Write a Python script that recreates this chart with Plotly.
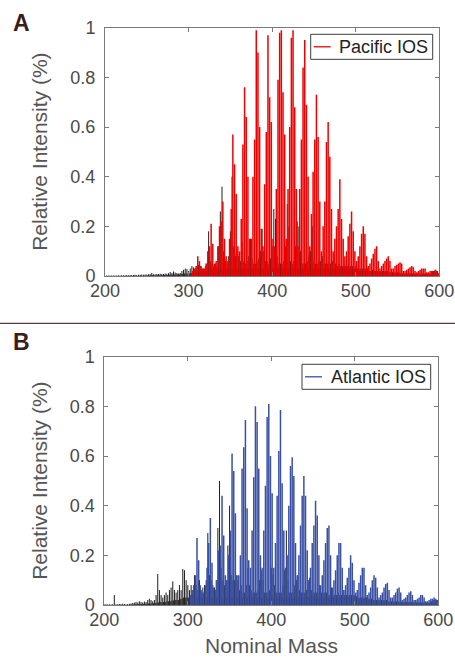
import plotly.graph_objects as go

# ---------------------------------------------------------------------------
# Nominal-mass spectra (relative intensity) for two island-of-stability
# (IOS) samples.  "other" = every nominal mass 200..600 (black sticks),
# "ios" = IOS formulas at odd nominal masses (coloured sticks).
# ---------------------------------------------------------------------------
MASS_MIN = 200

pac_other = [
    0, 0, 0.002, 0, 0.002, 0, 0.002, 0, 0.002, 0,                      # 200
    0.002, 0, 0.002, 0, 0.002, 0, 0.003, 0, 0.002, 0,                  # 210
    0.003, 0, 0.003, 0, 0.003, 0, 0.004, 0, 0.003, 0,                  # 220
    0.004, 0, 0.004, 0, 0.004, 0.002, 0.005, 0, 0.004, 0,              # 230
    0.005, 0, 0.005, 0.002, 0.006, 0, 0.005, 0.002, 0.006, 0,          # 240
    0.006, 0.002, 0.007, 0.002, 0.008, 0.003, 0.012, 0.003, 0.007, 0.002,  # 250
    0.007, 0.003, 0.008, 0.003, 0.008, 0.003, 0.009, 0.004, 0.008, 0.003,  # 260
    0.008, 0.004, 0.01, 0.004, 0.009, 0.004, 0.011, 0.005, 0.016, 0.005,   # 270
    0.012, 0.006, 0.018, 0.006, 0.014, 0.006, 0.012, 0.007, 0.01, 0.006,   # 280
    0.012, 0.008, 0.02, 0.008, 0.025, 0.01, 0.03, 0.01, 0.028, 0.01,       # 290
    0.02, 0.01, 0.03, 0.012, 0.04, 0.012, 0.035, 0.015, 0.03, 0.015,       # 300
    0.04, 0.015, 0.045, 0.02, 0.04, 0.02, 0.03, 0.02, 0.03, 0.02,          # 310
    0.04, 0.02, 0.05, 0.02, 0.18, 0.03, 0.06, 0.03, 0.05, 0.02,            # 320
    0.04, 0.03, 0.05, 0.03, 0.04, 0.03, 0.12, 0.03, 0.26, 0.03,            # 330
    0.36, 0.03, 0.1, 0.03, 0.06, 0.03, 0.05, 0.03, 0.08, 0.03,             # 340
    0.18, 0.03, 0.40, 0.03, 0.12, 0.03, 0.08, 0.03, 0.1, 0.03,             # 350
    0.08, 0.03, 0.06, 0.03, 0.14, 0.03, 0.06, 0.03, 0.05, 0.03,            # 360
    0.06, 0.03, 0.08, 0.03, 0.15, 0.03, 0.07, 0.03, 0.05, 0.03,            # 370
    0.05, 0.03, 0.06, 0.03, 0.07, 0.03, 0.1, 0.03, 0.19, 0.03,             # 380
    0.1, 0.03, 0.06, 0.03, 0.06, 0.03, 0.05, 0.03, 0.07, 0.03,             # 390
    0.12, 0.03, 0.27, 0.03, 0.23, 0.03, 0.08, 0.03, 0.05, 0.03,            # 400
    0.05, 0.03, 0.05, 0.03, 0.06, 0.03, 0.12, 0.03, 0.29, 0.03,            # 410
    0.2, 0.03, 0.06, 0.03, 0.05, 0.03, 0.06, 0.03, 0.12, 0.03,             # 420
    0.22, 0.03, 0.2, 0.03, 0.1, 0.03, 0.05, 0.03, 0.05, 0.03,              # 430
    0.05, 0.03, 0.06, 0.03, 0.08, 0.03, 0.1, 0.03, 0.2, 0.03,              # 440
    0.06, 0.03, 0.05, 0.03, 0.05, 0.03, 0.06, 0.03, 0.06, 0.03,            # 450
    0.08, 0.03, 0.05, 0.03, 0.05, 0.03, 0.05, 0.03, 0.05, 0.03,            # 460
    0.05, 0.03, 0.06, 0.03, 0.09, 0.03, 0.05, 0.03, 0.04, 0.03,            # 470
    0.05, 0.03, 0.04, 0.03, 0.04, 0.03, 0.05, 0.03, 0.04, 0.03,            # 480
    0.04, 0.03, 0.04, 0.03, 0.04, 0.03, 0.04, 0.03, 0.03, 0.03,            # 490
    0.04, 0.03, 0.03, 0.03, 0.03, 0.02, 0.03, 0.02, 0.03, 0.02,            # 500
    0.03, 0.02, 0.03, 0.02, 0.03, 0.02, 0.02, 0.02, 0.02, 0.02,            # 510
    0.025, 0.02, 0.02, 0.02, 0.02, 0.02, 0.02, 0.015, 0.02, 0.015,         # 520
    0.02, 0.015, 0.02, 0.015, 0.02, 0.015, 0.02, 0.015, 0.02, 0.015,       # 530
    0.015, 0.01, 0.015, 0.01, 0.015, 0.01, 0.015, 0.01, 0.015, 0.01,       # 540
    0.015, 0.01, 0.015, 0.01, 0.01, 0.01, 0.01, 0.01, 0.01, 0.01,          # 550
    0.01, 0.01, 0.01, 0.01, 0.01, 0.01, 0.01, 0.01, 0.01, 0.01,            # 560
    0.01, 0.008, 0.01, 0.008, 0.01, 0.008, 0.01, 0.008, 0.01, 0.008,       # 570
    0.01, 0.008, 0.01, 0.008, 0.01, 0.008, 0.01, 0.008, 0.01, 0.008,       # 580
    0.01, 0.008, 0.02, 0.008, 0.02, 0.01, 0.025, 0.01, 0.02, 0.01,         # 590
    0.01,                                                               # 600
]

PAC_IOS_START = 305   # odd masses 305, 307, ... 599
pac_ios = [
    0.02, 0.03, 0.04, 0.08, 0.06, 0.04, 0.03,       # 305-317
    0.03, 0.05, 0.10, 0.12, 0.21, 0.13, 0.05,       # 319-331
    0.06, 0.12, 0.20, 0.22, 0.30, 0.15, 0.08,       # 333-345
    0.06, 0.15, 0.27, 0.57, 0.45, 0.33, 0.12,       # 347-359
    0.10, 0.23, 0.53, 0.76, 0.64, 0.40, 0.15,       # 361-373
    0.15, 0.40, 0.55, 0.99, 0.90, 0.60, 0.19,       # 375-387
    0.12, 0.37, 0.58, 0.97, 0.72, 0.62, 0.15,       # 389-401
    0.12, 0.35, 0.79, 0.98, 0.99, 0.74, 0.57,       # 403-415
    0.15, 0.35, 0.60, 0.96, 0.99, 0.68, 0.35,       # 417-429
    0.12, 0.35, 0.55, 0.84, 0.95, 0.69, 0.40,       # 431-443
    0.12, 0.25, 0.42, 0.55, 0.73, 0.56, 0.30,       # 445-457
    0.10, 0.20, 0.30, 0.54, 0.62, 0.48, 0.27,       # 459-471
    0.10, 0.15, 0.20, 0.27, 0.39, 0.23, 0.15,       # 473-485
    0.08, 0.10, 0.16, 0.21, 0.26, 0.18, 0.10,       # 487-499
    0.06, 0.08, 0.12, 0.17, 0.20, 0.17, 0.08,       # 501-513
    0.04, 0.05, 0.07, 0.09, 0.11, 0.12, 0.06,       # 515-527
    0.03, 0.04, 0.05, 0.06, 0.07, 0.08, 0.06,       # 529-541
    0.03, 0.03, 0.04, 0.045, 0.05, 0.055, 0.05,     # 543-555
    0.02, 0.02, 0.025, 0.03, 0.035, 0.04, 0.035,    # 557-569
    0.02, 0.015, 0.02, 0.025, 0.03, 0.03, 0.03,     # 571-583
    0.015, 0.015, 0.02, 0.02, 0.02, 0.025, 0.02,    # 585-597
    0.01,                                           # 599
]

atl_other = [
    0.003, 0, 0.003, 0, 0.002, 0, 0.003, 0, 0.002, 0,                  # 200
    0.003, 0, 0.04, 0, 0.003, 0, 0.003, 0, 0.004, 0,                   # 210
    0.004, 0, 0.005, 0, 0.004, 0, 0.003, 0, 0.004, 0,                  # 220
    0.005, 0.002, 0.006, 0.002, 0.008, 0.002, 0.01, 0.003, 0.012, 0.003,   # 230
    0.01, 0.003, 0.015, 0.004, 0.012, 0.004, 0.01, 0.004, 0.014, 0.005,    # 240
    0.012, 0.005, 0.02, 0.006, 0.025, 0.006, 0.02, 0.007, 0.015, 0.007,    # 250
    0.02, 0.008, 0.04, 0.01, 0.125, 0.01, 0.06, 0.012, 0.04, 0.01,         # 260
    0.03, 0.012, 0.04, 0.012, 0.05, 0.015, 0.04, 0.015, 0.06, 0.015,       # 270
    0.07, 0.018, 0.095, 0.018, 0.06, 0.02, 0.05, 0.02, 0.06, 0.02,         # 280
    0.08, 0.025, 0.06, 0.025, 0.145, 0.03, 0.14, 0.03, 0.1, 0.03,          # 290
    0.08, 0.03, 0.06, 0.04, 0.08, 0.04, 0.06, 0.04, 0.12, 0.04,            # 300
    0.08, 0.03, 0.06, 0.03, 0.1, 0.03, 0.06, 0.03, 0.07, 0.03,             # 310
    0.08, 0.03, 0.1, 0.03, 0.29, 0.03, 0.12, 0.03, 0.1, 0.03,              # 320
    0.08, 0.03, 0.07, 0.03, 0.1, 0.03, 0.31, 0.03, 0.50, 0.03,             # 330
    0.15, 0.03, 0.1, 0.03, 0.08, 0.03, 0.1, 0.03, 0.24, 0.03,              # 340
    0.40, 0.03, 0.12, 0.03, 0.1, 0.03, 0.1, 0.03, 0.12, 0.03,              # 350
    0.1, 0.03, 0.06, 0.03, 0.08, 0.03, 0.05, 0.03, 0.05, 0.03,             # 360
    0.08, 0.03, 0.15, 0.03, 0.08, 0.03, 0.06, 0.03, 0.05, 0.03,            # 370
    0.05, 0.03, 0.05, 0.03, 0.06, 0.03, 0.1, 0.03, 0.14, 0.03,             # 380
    0.1, 0.03, 0.05, 0.03, 0.05, 0.03, 0.05, 0.03, 0.06, 0.03,             # 390
    0.15, 0.03, 0.12, 0.03, 0.08, 0.03, 0.05, 0.03, 0.05, 0.03,            # 400
    0.05, 0.03, 0.05, 0.03, 0.08, 0.03, 0.14, 0.03, 0.3, 0.03,             # 410
    0.1, 0.03, 0.05, 0.03, 0.05, 0.03, 0.05, 0.03, 0.08, 0.03,             # 420
    0.1, 0.03, 0.12, 0.03, 0.06, 0.03, 0.05, 0.03, 0.05, 0.03,             # 430
    0.05, 0.03, 0.06, 0.03, 0.1, 0.03, 0.11, 0.03, 0.06, 0.03,             # 440
    0.05, 0.03, 0.05, 0.03, 0.05, 0.03, 0.05, 0.03, 0.08, 0.03,            # 450
    0.05, 0.03, 0.05, 0.03, 0.05, 0.03, 0.05, 0.03, 0.04, 0.03,            # 460
    0.04, 0.03, 0.07, 0.03, 0.04, 0.03, 0.04, 0.03, 0.04, 0.03,            # 470
    0.05, 0.03, 0.04, 0.03, 0.04, 0.03, 0.06, 0.03, 0.04, 0.03,            # 480
    0.04, 0.03, 0.04, 0.03, 0.04, 0.03, 0.04, 0.03, 0.04, 0.03,            # 490
    0.04, 0.03, 0.035, 0.03, 0.03, 0.025, 0.03, 0.025, 0.03, 0.025,        # 500
    0.03, 0.025, 0.03, 0.02, 0.03, 0.02, 0.025, 0.02, 0.025, 0.02,         # 510
    0.025, 0.02, 0.02, 0.02, 0.02, 0.02, 0.02, 0.015, 0.02, 0.015,         # 520
    0.02, 0.015, 0.02, 0.015, 0.02, 0.015, 0.02, 0.015, 0.02, 0.015,       # 530
    0.015, 0.012, 0.015, 0.012, 0.015, 0.012, 0.015, 0.012, 0.015, 0.012,  # 540
    0.015, 0.01, 0.015, 0.01, 0.012, 0.01, 0.012, 0.01, 0.012, 0.01,       # 550
    0.012, 0.01, 0.012, 0.01, 0.012, 0.01, 0.012, 0.01, 0.012, 0.01,       # 560
    0.01, 0.01, 0.01, 0.01, 0.01, 0.01, 0.01, 0.01, 0.01, 0.01,            # 570
    0.01, 0.008, 0.01, 0.008, 0.01, 0.008, 0.01, 0.008, 0.01, 0.008,       # 580
    0.01, 0.008, 0.015, 0.008, 0.02, 0.01, 0.02, 0.01, 0.02, 0.01,         # 590
    0.01,                                                               # 600
]

ATL_IOS_START = 303   # odd masses 303, 305, ... 599
atl_ios = [
    0.04,                                           # 303
    0.06, 0.08, 0.12, 0.27, 0.18, 0.08, 0.05,       # 305-317
    0.05, 0.08, 0.15, 0.25, 0.35, 0.17, 0.07,       # 319-331
    0.06, 0.10, 0.22, 0.24, 0.44, 0.28, 0.12,       # 333-345
    0.10, 0.20, 0.30, 0.61, 0.54, 0.37, 0.12,       # 347-359
    0.12, 0.20, 0.55, 0.635, 0.745, 0.39, 0.18,     # 361-373
    0.15, 0.30, 0.515, 0.80, 0.737, 0.55, 0.20,     # 375-387
    0.15, 0.30, 0.48, 0.757, 0.81, 0.60, 0.45,      # 389-401
    0.15, 0.25, 0.44, 0.62, 0.785, 0.49, 0.30,      # 403-415
    0.15, 0.20, 0.40, 0.56, 0.595, 0.52, 0.25,      # 417-429
    0.12, 0.20, 0.32, 0.44, 0.52, 0.44, 0.22,       # 431-443
    0.10, 0.15, 0.25, 0.32, 0.42, 0.36, 0.20,       # 445-457
    0.08, 0.12, 0.18, 0.25, 0.31, 0.32, 0.20,       # 459-471
    0.07, 0.10, 0.14, 0.20, 0.25, 0.25, 0.15,       # 473-485
    0.06, 0.08, 0.11, 0.15, 0.20, 0.17, 0.10,       # 487-499
    0.05, 0.06, 0.09, 0.12, 0.15, 0.15, 0.08,       # 501-513
    0.04, 0.05, 0.07, 0.10, 0.12, 0.11, 0.07,       # 515-527
    0.03, 0.04, 0.05, 0.07, 0.085, 0.09, 0.06,      # 529-541
    0.03, 0.03, 0.04, 0.05, 0.065, 0.07, 0.05,      # 543-555
    0.02, 0.025, 0.03, 0.04, 0.05, 0.055, 0.04,     # 557-569
    0.02, 0.02, 0.025, 0.03, 0.04, 0.04, 0.03,      # 571-583
    0.015, 0.015, 0.02, 0.025, 0.025, 0.03, 0.025,  # 585-597
    0.02,                                           # 599
]

x_ticks = [200, 300, 400, 500, 600]
y_ticks = [0, 0.2, 0.4, 0.6, 0.8, 1]
y_tick_text = ["0", "0.2", "0.4", "0.6", "0.8", "1"]

W, H = 455, 658
TEXT = "#4a4a4a"
FRAME = "#7a7a7a"
BLACK = "#1e1e1e"
RED = "rgb(240,0,0)"
BLUE = "rgb(58,80,164)"


def stems(masses, values):
    """Vertical sticks from 0 to each intensity, separated by gaps."""
    xs, ys = [], []
    for m, v in zip(masses, values):
        if v > 0:
            xs += [m, m, None]
            ys += [0, v, None]
    return xs, ys


def px(x):
    return x / W


def py(y):
    return 1 - y / H


fig = go.Figure()

panels = [
    # (other, ios, ios start, colour, legend label, xaxis, yaxis)
    (pac_other, pac_ios, PAC_IOS_START, RED, "Pacific IOS", "x", "y"),
    (atl_other, atl_ios, ATL_IOS_START, BLUE, "Atlantic IOS", "x2", "y2"),
]

for other, ios, start, colour, label, xa, ya in panels:
    m_all = [MASS_MIN + i for i in range(len(other))]
    m_ios = [start + 2 * i for i in range(len(ios))]
    bx, by = stems(m_all, other)
    fig.add_trace(go.Scatter(x=bx, y=by, mode="lines", xaxis=xa, yaxis=ya,
                             line=dict(color=BLACK, width=1.0),
                             showlegend=False, hoverinfo="skip"))
    cx, cy = stems(m_ios, ios)
    fig.add_trace(go.Scatter(x=cx, y=cy, mode="lines", xaxis=xa, yaxis=ya,
                             line=dict(color=colour, width=1.5),
                             name=label, showlegend=False))

# plot areas (pixels): A = 105..439 x 28..276, B = 104..438 x 357..605
dom_a_x = [px(105), px(439.3)]
dom_a_y = [py(276), py(27.7)]
dom_b_x = [px(104.3), px(438.3)]
dom_b_y = [py(605), py(356.7)]

axis_common = dict(showline=True, linecolor=FRAME, linewidth=1, mirror="ticks",
                   ticks="inside", ticklen=4, tickcolor=FRAME, showgrid=False,
                   zeroline=False, tickfont=dict(size=18, color=TEXT))
x_common = dict(range=[200, 600], tickvals=x_ticks, ticklabelstandoff=-2, **axis_common)
y_common = dict(range=[0, 1], tickvals=y_ticks, ticktext=y_tick_text,
                ticklabelstandoff=5, **axis_common)

fig.update_layout(
    width=W, height=H,
    margin=dict(l=0, r=0, t=0, b=0, autoexpand=False),
    paper_bgcolor="white", plot_bgcolor="white",
    font=dict(family="Liberation Sans, Arial, Helvetica, sans-serif", color=TEXT),
    showlegend=False,
    xaxis=dict(domain=dom_a_x, anchor="y", **x_common),
    yaxis=dict(domain=dom_a_y, anchor="x", **y_common),
    xaxis2=dict(domain=dom_b_x, anchor="y2", **x_common),
    yaxis2=dict(domain=dom_b_y, anchor="x2", **y_common),
)

shapes = [
    # divider between the panels
    dict(type="line", xref="paper", yref="paper", x0=0, x1=1, y0=py(323.3), y1=py(323.3),
         line=dict(color="#5a3a3a", width=1.3)),
]
annotations = []

# legend boxes: (box x0, x1, y0, y1, colour, label)
legend_boxes = [
    (310.7, 432.7, 34.3, 59.3, RED, "Pacific IOS"),
    (302.0, 430.7, 364.3, 389.3, BLUE, "Atlantic IOS"),
]
for x0, x1, y0, y1, colour, label in legend_boxes:
    yc = (y0 + y1) / 2
    shapes.append(dict(type="rect", xref="paper", yref="paper",
                       x0=px(x0), x1=px(x1), y0=py(y1), y1=py(y0),
                       line=dict(color="#3c3c3c", width=1), fillcolor="white"))
    shapes.append(dict(type="line", xref="paper", yref="paper",
                       x0=px(x0 + 3), x1=px(x0 + 20), y0=py(yc), y1=py(yc),
                       line=dict(color=colour, width=1.3)))
    annotations.append(dict(text=label, xref="paper", yref="paper",
                            x=px(x1 - 3), y=py(yc + 0.5), xanchor="right", yanchor="middle",
                            showarrow=False, font=dict(size=18, color="#222222")))

# panel letters
for letter, yc in (("A", 23.5), ("B", 342)):
    annotations.append(dict(text=f"<b>{letter}</b>", xref="paper", yref="paper",
                            x=px(21.5), y=py(yc), xanchor="center", yanchor="middle",
                            showarrow=False, font=dict(size=23, color="#3a1c1c")))

# axis titles
for yc in ((27.7 + 276) / 2, (356.7 + 605) / 2):
    annotations.append(dict(text="Relative Intensity (%)", xref="paper", yref="paper",
                            x=px(40), y=py(yc), xanchor="center", yanchor="middle",
                            textangle=-90, showarrow=False,
                            font=dict(size=21, color="#555555")))
annotations.append(dict(text="Nominal Mass", xref="paper", yref="paper",
                        x=px(271.3), y=0, xanchor="center", yanchor="bottom",
                        borderpad=0, showarrow=False,
                        font=dict(size=21, color="#555555")))

fig.update_layout(shapes=shapes, annotations=annotations)

fig.write_html("out.html")
